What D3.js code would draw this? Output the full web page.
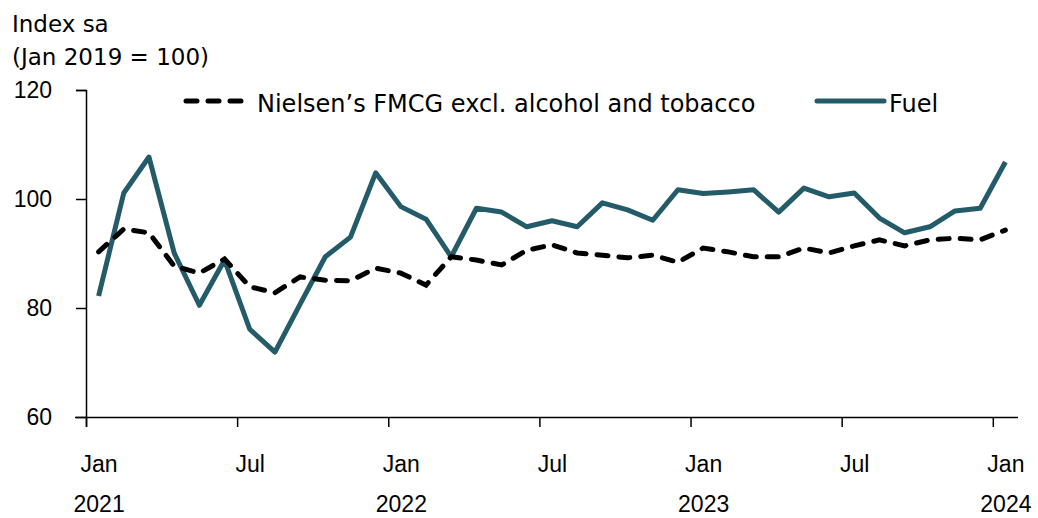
<!DOCTYPE html>
<html>
<head>
<meta charset="utf-8">
<script src="https://cdn.jsdelivr.net/npm/d3@7"></script>
<style>
  body { margin: 0; background: #fff; }
  svg { font-family: "DejaVu Sans", sans-serif; }
</style>
</head>
<body>
<svg id="chart"></svg>
<script>
// months from Jan 2021 to Jan 2024
var months = d3.range(37)
var fmcg = [90.3, 94.5, 93.8, 87.7, 86.4, 89.0, 83.9, 82.8, 85.7, 85.1, 85.0, 87.3,
            86.4, 84.2, 89.4, 88.8, 87.9, 90.6, 91.6, 90.1, 89.7, 89.2, 89.7, 88.4,
            91.0, 90.3, 89.4, 89.4, 91.0, 90.1, 91.4, 92.5, 91.4, 92.5, 92.8, 92.5,
            94.3]
var fuel = [82.2, 101.1, 107.7, 90.1, 80.5, 88.8, 76.1, 71.9, 80.7, 89.4, 93.0, 104.8,
            98.6, 96.3, 89.4, 98.3, 97.6, 94.9, 96.0, 94.9, 99.3, 98.0, 96.1, 101.7,
            101.0, 101.3, 101.7, 97.6, 102.0, 100.4, 101.1, 96.5, 93.8, 94.9, 97.8, 98.3,
            106.8]
var tickMonths = [0, 6, 12, 18, 24, 30, 36]
var tickNames = ["Jan", "Jul", "Jan", "Jul", "Jan", "Jul", "Jan"]
var yearLabels = {0: "2021", 12: "2022", 24: "2023", 36: "2024"}
var yTicks = [60, 80, 100, 120]

var screen = {width: 1038, height: 518}
var margins = {top: 90, bottom: 101, left: 86, right: 20}
var graph = {
    width: screen.width - margins.left - margins.right,
    height: screen.height - margins.top - margins.bottom
}
var teal = "#245b69"
var fontSize = 23

var svg = d3.select("#chart")
    .attr("width", screen.width)
    .attr("height", screen.height)

var xScale = d3.scaleLinear()
    .domain([0, 37])
    .range([0, graph.width])

var yScale = d3.scaleLinear()
    .domain([60, 120])
    .range([graph.height, 0])

var g = svg.append("g")
    .attr("transform", "translate(" + margins.left + "," + margins.top + ")")

// axes
var yAxis = d3.axisLeft(yScale)
    .tickValues(yTicks)
    .tickSize(10)
    .tickPadding(24)
var yG = g.append("g").call(yAxis)
yG.select(".domain").attr("d", "M-10,0.5H0.5V" + (graph.height + 10))
yG.selectAll("text").attr("font-size", fontSize).attr("fill", "#000")
yG.selectAll("line").attr("stroke", "#000").attr("stroke-width", 1.5)
yG.select(".domain").attr("stroke", "#000").attr("stroke-width", 1.5)

var xAxis = d3.axisBottom(xScale)
    .tickValues(tickMonths)
    .tickSize(10)
    .tickSizeOuter(0)
    .tickFormat(function(d, i) { return tickNames[i] })
var xG = g.append("g")
    .attr("transform", "translate(0," + graph.height + ")")
    .call(xAxis)
xG.select(".domain").attr("d", "M-11,0.5H" + graph.width)
    .attr("stroke", "#000").attr("stroke-width", 1.5)
xG.selectAll("line").attr("stroke", "#000").attr("stroke-width", 1.5)
xG.selectAll(".tick text")
    .attr("font-size", fontSize)
    .attr("fill", "#000")
    .attr("x", xScale(0.5) - xScale(0))
    .attr("y", 55)
    .attr("dy", null)
xG.selectAll(".tick").filter(function(d) { return yearLabels[d] })
    .append("text")
    .attr("x", xScale(0.5) - xScale(0))
    .attr("y", 95)
    .attr("font-size", fontSize)
    .attr("fill", "#000")
    .text(function(d) { return yearLabels[d] })

// lines
var line = function(values) {
    return d3.line()
        .x(function(d) { return xScale(d + 0.5) })
        .y(function(d) { return yScale(values[d]) })(months)
}

g.append("path")
    .attr("d", line(fuel))
    .attr("fill", "none")
    .attr("stroke", teal)
    .attr("stroke-width", 5)
    .attr("stroke-linejoin", "round")

g.append("path")
    .attr("d", line(fmcg))
    .attr("fill", "none")
    .attr("stroke", "#000")
    .attr("stroke-width", 5)
    .attr("stroke-linecap", "round")
    .attr("stroke-dasharray", "11,11")

// legend
var legend = svg.append("g").attr("font-size", 24)
legend.append("line")
    .attr("x1", 186).attr("x2", 246).attr("y1", 101).attr("y2", 101)
    .attr("stroke", "#000").attr("stroke-width", 5)
    .attr("stroke-linecap", "round").attr("stroke-dasharray", "11,11")
legend.append("text")
    .attr("x", 257).attr("y", 112)
    .text("Nielsen’s FMCG excl. alcohol and tobacco")
legend.append("line")
    .attr("x1", 817).attr("x2", 884).attr("y1", 101).attr("y2", 101)
    .attr("stroke", teal).attr("stroke-width", 5).attr("stroke-linecap", "round")
legend.append("text")
    .attr("x", 889).attr("y", 112)
    .text("Fuel")

// y title
svg.append("text").attr("x", 12).attr("y", 32).attr("font-size", fontSize).text("Index sa")
svg.append("text").attr("x", 12).attr("y", 65).attr("font-size", fontSize).text("(Jan 2019 = 100)")
</script>
</body>
</html>
